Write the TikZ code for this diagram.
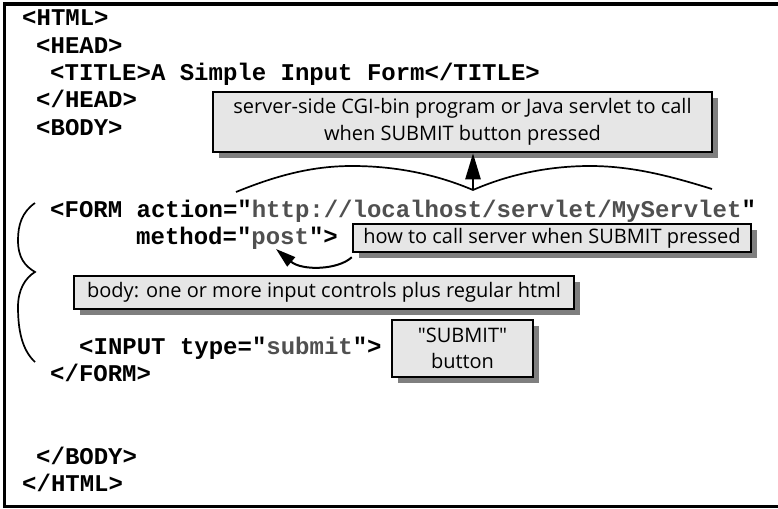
\documentclass[tikz,border=0pt]{standalone}
\usepackage{fontspec}
\setmainfont{Open Sans}[Ligatures=TeXOff]
\setmonofont{Liberation Mono}
\usepackage{xcolor}
\usepackage{tikz}
\usetikzlibrary{arrows.meta,positioning,shadows}
\definecolor{noteFill}{HTML}{E6E6E6}
\definecolor{noteShade}{HTML}{7F7F7F}
\definecolor{valGray}{HTML}{505050}
\newcommand{\val}[1]{\textcolor{valGray}{#1}}

\begin{document}
\begin{tikzpicture}[x=1pt,y=-1pt,
 code/.style={anchor=base west,inner sep=0pt,
   font=\ttfamily\bfseries\fontsize{24}{27}\selectfont},
 note/.style={draw,line width=2.5pt,fill=noteFill,align=center,inner sep=0pt,
   font=\fontsize{20}{26.5}\selectfont,
   drop shadow={shadow xshift=6pt,shadow yshift=-6pt,fill=noteShade,opacity=1}},
 arr/.style={-{Triangle[length=26pt,width=15pt]},line width=2.5pt},
 arrsmall/.style={-{Triangle[length=20pt,width=12pt]},line width=2pt},
 brace/.style={line width=1.7pt}]
\useasboundingbox (0,0) rectangle (778,508);
\draw[line width=3.5pt] (778,4) -- (4.5,4) -- (4.5,506.5) -- (778,506.5);

\node[code] (html)    at (22,25.7)  {<HTML>};
\node[code] (head)    at (36,53.1)  {<HEAD>};
\node[code] (title)   at (50,80.5)  {<TITLE>A Simple Input Form</TITLE>};
\node[code] (headend) at (36,107.9) {</HEAD>};
\node[code] (body)    at (36,135.3) {<BODY>};
\node[code] (form)    at (50,217.5) {<FORM action="\val{http://localhost/servlet/MyServlet}"};
\node[code] (method)  at (136,244.9) {method="\val{post}">};
\node[code] (input)   at (79,354.5) {<INPUT type="\val{submit}">};
\node[code] (formend) at (50,381.9) {</FORM>};
\node[code] (bodyend) at (36,464.1) {</BODY>};
\node[code] (htmlend) at (22,491.5) {</HTML>};

\node[note,minimum width=499pt,minimum height=60pt] (cgibox) at (462.5,122)
  {server-side CGI-bin program or Java servlet to call\\when SUBMIT button pressed};
\node[note,minimum width=398pt,minimum height=28pt] (howbox) at (552,238)
  {how to call server when SUBMIT pressed};
\node[note,minimum width=500pt,minimum height=33pt] (bodybox) at (324,292.5)
  {body: one or more input controls plus regular html};
\node[note,minimum width=141pt,minimum height=57pt] (submitbox) at (462.5,348.5)
  {"SUBMIT"\\button};

\coordinate (actiontip) at (473,190);
\coordinate (posttip) at (276,249);

\draw[brace] (236,192) .. controls (280,174) and (315,166) .. (352,166)
  .. controls (400,166) and (440,176) .. (actiontip)
  .. controls (505,176) and (545,166) .. (590,166)
  .. controls (632,166) and (670,176) .. (712,189);
\draw[brace] (35,203) .. controls (22,212) and (18,225) .. (18,240)
  .. controls (18,258) and (25,266) .. (35,272)
  .. controls (25,278) and (18,290) .. (18,307)
  .. controls (18,330) and (22,350) .. (35,362);

\draw[arr] (actiontip) -- (actiontip |- cgibox.south);
\draw[arrsmall] ([yshift=-4pt]howbox.south west) .. controls (338,270) and (302,271) .. (posttip);
\end{tikzpicture}
\end{document}
